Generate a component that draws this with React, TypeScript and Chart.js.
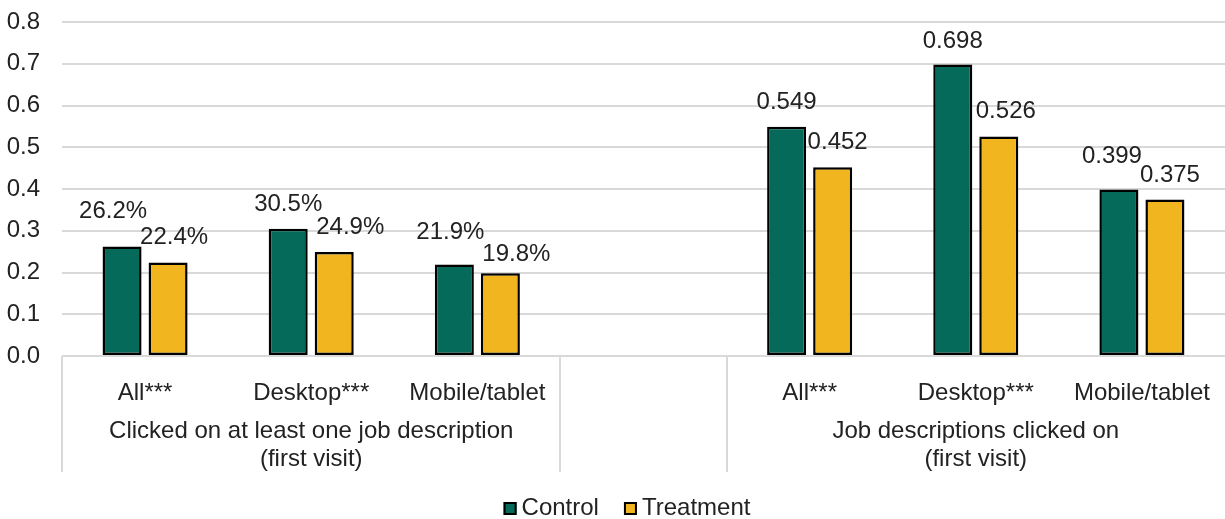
import React, { useEffect, useRef } from 'react';
import { Chart, registerables } from 'chart.js';

Chart.register(...registerables);

// ---------- data ----------
const categories = ['All***', 'Desktop***', 'Mobile/tablet', '', 'All***', 'Desktop***', 'Mobile/tablet'];
const controlValues: (number | null)[] = [0.262, 0.305, 0.219, null, 0.549, 0.698, 0.399];
const treatmentValues: (number | null)[] = [0.224, 0.249, 0.198, null, 0.452, 0.526, 0.375];
const labelFormats = ['percent', 'percent', 'percent', 'none', 'decimal', 'decimal', 'decimal'];
const seriesNames = ['Control', 'Treatment'];
const groupTitles = [
  ['Clicked on at least one job description', '(first visit)'],
  [],
  ['Job descriptions clicked on', '(first visit)'],
];
const groupSpans = [
  [0, 2],
  [3, 3],
  [4, 6],
];
const yMin = 0;
const yMax = 0.8;
const yStep = 0.1;

// ---------- styling ----------
const FONT = "'Liberation Sans', Arial, sans-serif";
const TEXT = '#222222';
const GRID = '#d9d9d9';
const COLORS = ['#066a5a', '#f0b51f'];
// label nudges [dx, extra lift] per series, per category
const labelNudges = [
  [[-9, 11], [0, 0], [-4, 8], [0, 0], [0, 0], [0, -1], [-7, 8]],
  [[6, 0], [16, 0], [16, -6], [0, 0], [5, 0], [7, 0], [5, -1]],
];

const dataLabelPlugin = {
  id: 'dataLabels',
  afterDatasetsDraw(chart: any) {
    const ctx = chart.ctx;
    ctx.save();
    ctx.font = `24px ${FONT}`;
    ctx.fillStyle = TEXT;
    ctx.textAlign = 'center';
    ctx.textBaseline = 'alphabetic';
    chart.data.datasets.forEach((ds: any, di: number) => {
      const meta = chart.getDatasetMeta(di);
      meta.data.forEach((el: any, i: number) => {
        const v = ds.data[i];
        if (v == null) return;
        const fmt = labelFormats[i];
        const text = fmt === 'percent' ? (v * 100).toFixed(1) + '%' : v.toFixed(3);
        const [dx, dy] = labelNudges[di][i];
        ctx.fillText(text, el.x + dx, el.y - 18 - dy);
      });
    });
    ctx.restore();
  },
};

const groupPlugin = {
  id: 'groups',
  afterDraw(chart: any) {
    const ctx = chart.ctx;
    const xs = chart.scales.x;
    const bottom = chart.chartArea.bottom;
    const catW = (xs.right - xs.left) / categories.length;
    ctx.save();
    // separators
    const bounds = new Set<number>();
    groupSpans.forEach(([s, e]) => {
      bounds.add(Math.round(xs.getPixelForValue(s) - catW / 2));
      bounds.add(Math.round(xs.getPixelForValue(e) + catW / 2));
    });
    ctx.strokeStyle = GRID;
    ctx.lineWidth = 2;
    bounds.forEach((x) => {
      if (x >= chart.width - 1) return;
      ctx.beginPath();
      ctx.moveTo(x, bottom);
      ctx.lineTo(x, 472);
      ctx.stroke();
    });
    // group titles
    ctx.font = `24px ${FONT}`;
    ctx.fillStyle = TEXT;
    ctx.textAlign = 'center';
    ctx.textBaseline = 'alphabetic';
    groupSpans.forEach(([s, e], gi) => {
      const l = xs.getPixelForValue(s) - catW / 2;
      const r = xs.getPixelForValue(e) + catW / 2;
      const cx = (l + r) / 2;
      groupTitles[gi].forEach((line, li) => {
        ctx.fillText(line, cx, 438 + li * 28);
      });
    });
    // legend
    ctx.textAlign = 'left';
    const box = 13;
    const gap = 5;
    const itemGap = 25;
    const widths = seriesNames.map((n) => ctx.measureText(n).width);
    const total = widths.reduce((a, w) => a + box + gap + w, 0) + itemGap * (seriesNames.length - 1);
    let x = 627 - total / 2;
    const baseline = 515;
    seriesNames.forEach((n, i) => {
      ctx.fillStyle = COLORS[i];
      ctx.fillRect(x, 502, box, box);
      ctx.strokeStyle = '#000';
      ctx.lineWidth = 2;
      ctx.strokeRect(x + 1, 503, box - 2, box - 2);
      ctx.fillStyle = TEXT;
      ctx.fillText(n, x + box + gap, baseline);
      x += box + gap + widths[i] + itemGap;
    });
    ctx.restore();
  },
};

export default function App() {
  const ref = useRef<HTMLCanvasElement>(null);
  useEffect(() => {
    if (!ref.current) return;
    Chart.defaults.font.family = FONT;
    Chart.defaults.font.size = 24;
    Chart.defaults.color = TEXT;
    const common = {
      borderColor: '#000',
      borderWidth: 2.5,
      borderSkipped: false,
      barPercentage: 0.848,
      categoryPercentage: 0.554,
    };
    const chart = new Chart(ref.current, {
      type: 'bar',
      data: {
        labels: categories,
        datasets: [
          { label: seriesNames[0], data: controlValues, backgroundColor: COLORS[0], ...common },
          { label: seriesNames[1], data: treatmentValues, backgroundColor: COLORS[1], ...common },
        ],
      },
      options: {
        responsive: false,
        animation: false,
        layout: { padding: { top: 22, left: 0, right: 0, bottom: 0 } },
        plugins: {
          legend: { display: false },
          tooltip: { enabled: false },
        },
        scales: {
          x: {
            grid: { display: false },
            border: { display: false },
            ticks: { padding: 15, color: TEXT, font: { size: 24 }, maxRotation: 0, autoSkip: false },
            afterFit: (s: any) => {
              s.height = 163;
            },
          },
          y: {
            min: yMin,
            max: yMax,
            grid: { color: GRID, lineWidth: 2, drawTicks: false },
            border: { display: false },
            ticks: {
              stepSize: yStep,
              padding: 22,
              color: TEXT,
              font: { size: 24 },
              callback: (v: any) => Number(v).toFixed(1),
            },
            afterFit: (s: any) => {
              s.width = 62;
              s.paddingTop = 0;
              s.paddingBottom = 0;
            },
          },
        },
      },
      plugins: [dataLabelPlugin, groupPlugin],
    });
    return () => chart.destroy();
  }, []);
  return (
    <div style={{ position: 'absolute', left: 0, top: 0, width: 1225, height: 519, background: '#fff' }}>
      <canvas ref={ref} width={1225} height={519} style={{ display: 'block' }} />
    </div>
  );
}
